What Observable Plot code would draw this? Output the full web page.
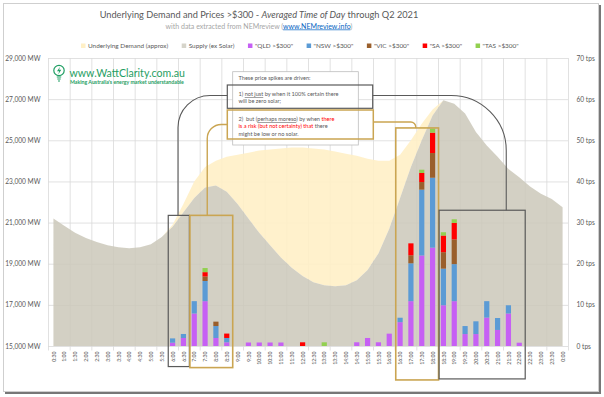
<!DOCTYPE html>
<html><head><meta charset="utf-8">
<script src="https://cdn.jsdelivr.net/npm/d3@7"></script>
<script src="https://cdn.jsdelivr.net/npm/@observablehq/plot@0.6"></script>
<style>
html,body{margin:0;padding:0;background:#fff;}
#wrap{position:relative;width:604px;height:397px;overflow:hidden;background:#fff;}
#frame{position:absolute;left:3px;top:3px;width:594px;height:387px;border:1px solid #cfcfcf;box-shadow:2px 2px 0 #777;pointer-events:none;}
#chart svg{display:block;font-family:Lato,"Open Sans",sans-serif;}
</style></head>
<body><div id="wrap"><div id="chart"></div><div id="frame"></div></div>
<script>
// ---------- data ----------
const times = ["0:30","1:00","1:30","2:00","2:30","3:00","3:30","4:00","4:30","5:00","5:30","6:00",
  "6:30","7:00","7:30","8:00","8:30","9:00","9:30","10:00","10:30","11:00","11:30","12:00",
  "12:30","13:00","13:30","14:00","14:30","15:00","15:30","16:00","16:30","17:00","17:30","18:00",
  "18:30","19:00","19:30","20:00","20:30","21:00","21:30","22:00","22:30","23:00","23:30","0:00"];
// Supply (ex Solar), MW
const supply = [21200,20850,20500,20250,20050,19900,19800,19750,19800,19950,20300,20800,
  21500,22200,22700,22800,22500,21900,21200,20500,19900,19300,18800,18400,
  18100,17950,17900,17950,18200,18700,19500,20700,22200,23700,25000,26200,
  26950,26780,26300,25400,24750,24200,23600,23200,22750,22400,22150,21750];
// Underlying Demand (approx), MW
const demand = [21200,20850,20500,20250,20050,19900,19800,19750,19800,19950,20300,20900,
  21900,23000,23700,24000,24200,24300,24400,24500,24550,24600,24650,24650,
  24600,24550,24450,24350,24250,24100,24000,24000,24300,25000,25800,26500,
  26950,26780,26300,25400,24750,24200,23600,23200,22750,22400,22150,21750];
// price spikes > $300, tps (trading periods)
const qld = [0,0,0,0,0,0,0,0,0,0,0,0.8, 1.95,7.9,10.9,1.95,0.9,0,0.85,0.85,0.85,0.85,0,0,
  0,0,0,0,0.9,1.95,0.9,3.0,5.8,10.9,22.0,23.9, 9.9,10.9,2.9,2.9,6.9,3.9,7.9,0.8,0,0,0,0];
const nsw = [0,0,0,0,0,0,0,0,0,0,0,1.05, 0.97,3.0,4.9,2.9,1.05,0,0,0,0,0,0,0,
  0,0,0,0,0,0,0,0,1.07,9.2,16.0,17.0, 8.9,9.0,1.95,3.1,4.0,2.9,2.0,0,0,0,0,0];
const vic = [0,0,0,0,0,0,0,0,0,0,0,0, 0,0,1.1,1.07,0,0,0,0,0,0,0,0,
  0,0,0,0,0,0,0,0,0,1.95,1.85,6.0, 4.0,6.0,0,0,0,0,0,0,0,0,0,0];
const sa  = [0,0,0,0,0,0,0,0,0,0,0,0, 0,0,1.05,0,1.07,0,0,0,0,0,0,0.9,
  0,0,0,0,0,0,0,0,0,2.9,2.2,4.95, 4.05,4.0,0,0,0,0,0,0,0,0,0,0];
const tas = [0,0,0,0,0,0,0,0,0,0,0,0, 0,0,1.0,0,0,0,0,0,0,0,0,0,
  0,0.9,0,0,0,0,0,0,0,0,0.8,1.0, 0.8,0.9,0,0,0,0,0,0,0,0,0,0];
const mwTicks = [15000,17000,19000,21000,23000,25000,27000,29000];
const tpsTicks = [0,10,20,30,40,50,60,70];
// highlighted time ranges (annotation)
const highlights = [
  {from:"6:00", to:"6:30", top:21350, bottom:14000, kind:"dark", link:11.5},
  {from:"7:00", to:"8:30", top:21350, bottom:13950, kind:"gold", link:14.2},
  {from:"16:30", to:"18:00", top:25600, bottom:13350, kind:"gold", link:33.45},
  {from:"18:30", to:"22:00", top:21600, bottom:13400, kind:"dark", link:41.8}
];

// ---------- build ----------
const W = 604, H = 397;
const idx = t => times.indexOf(t);
const tpsMax = tpsTicks[tpsTicks.length-1];
const mwMin = mwTicks[0], mwMax = mwTicks[mwTicks.length-1];
const toMW = v => mwMin + v * (mwMax - mwMin) / tpsMax;
const rows = times.map((t,i)=>({i, t, supply: supply[i], demand: demand[i]}));
const stateKeys = ["QLD","NSW","VIC","SA","TAS"];
const stateVals = {QLD:qld, NSW:nsw, VIC:vic, SA:sa, TAS:tas};
const stateColor = {QLD:"#c660f4", NSW:"#5b9bd5", VIC:"#9a5f2c", SA:"#ff0000", TAS:"#92d050"};
const segs = [];
times.forEach((t,i)=>{ let c=0; for (const k of stateKeys){ const v=stateVals[k][i]; if(v>0){ segs.push({i,k,lo:c,hi:c+v}); c+=v; } } });
const gridIdx = d3.range(-0.5, 48, 2);
const DARK = "#5a5a5a", GOLD = "#caa552";
const textCol = "#595959";

const chart = Plot.plot({
  width: W, height: H,
  marginLeft: 48, marginRight: 36, marginTop: 58, marginBottom: 51,
  x: {type:"linear", domain:[-0.5, 47.5]},
  y: {domain:[mwMin, mwMax]},
  style: {background:"transparent", fontFamily:"Lato, 'Open Sans', sans-serif", overflow:"visible"},
  marks: [
    Plot.ruleY(mwTicks, {stroke:"#d9d9d9", strokeWidth:0.8}),
    Plot.ruleX(gridIdx, {y1: mwMax, y2: 14780, stroke:"#d9d9d9", strokeWidth:0.8}),
    Plot.areaY(rows, {x:"i", y1:"supply", y2:"demand", fill:"#fff0c6", fillOpacity:0.9}),
    Plot.areaY(rows, {x:"i", y1: mwMin, y2:"supply", fill:"#cbc8ba", fillOpacity:0.85}),
    Plot.rect(segs, {x1: d=>d.i-0.24, x2: d=>d.i+0.24, y1: d=>toMW(d.lo), y2: d=>toMW(d.hi), fill: d=>stateColor[d.k]}),
    Plot.rect(highlights, {x1: d=>idx(d.from)-0.4, x2: d=>idx(d.to)+0.55, y1:"bottom", y2:"top",
      fill:"none", stroke: d=> d.kind==="dark" ? DARK : GOLD, strokeWidth: d=> d.kind==="dark" ? 1.2 : 1.6}),
    Plot.axisX(d3.range(times.length), {anchor:"bottom", tickFormat: i=>times[i], tickRotate:-90, tickSize:0, tickPadding:5, fontSize:5.2, fill:textCol, label:null}),
    Plot.axisY(mwTicks, {anchor:"left", tickFormat: d=>d3.format(",")(d)+" MW", tickSize:0, tickPadding:8, fontSize:6.6, fill:textCol, label:null}),
    Plot.axisY(mwTicks, {anchor:"right", tickFormat: d=>Math.round((d-mwMin)*tpsMax/(mwMax-mwMin))+" tps", tickSize:0, tickPadding:8, fontSize:6.6, fill:textCol, label:null})
  ]
});
document.getElementById("chart").appendChild(chart);

const svg = d3.select(chart);
const xs = chart.scale("x"), ys = chart.scale("y");
const X = v => xs.apply(v), Y = v => ys.apply(v);

function fit(sel, width){
  const n = sel.node(); const fs = parseFloat(sel.attr("font-size"));
  const len = n.getComputedTextLength(); sel.attr("font-size", fs*width/len);
}

// Title
const title = svg.append("text").attr("x",259).attr("y",17.5).attr("text-anchor","middle").attr("font-size",10).attr("fill",textCol);
title.append("tspan").text("Underlying Demand and Prices >$300 - ");
title.append("tspan").attr("font-style","italic").text("Averaged Time of Day");
title.append("tspan").text(" through Q2 2021");
fit(title, 319);
const sub = svg.append("text").attr("x",259).attr("y",28.5).attr("text-anchor","middle").attr("font-size",7).attr("fill","#a6a6a6");
sub.append("tspan").text("with data extracted from NEMreview (");
sub.append("tspan").attr("fill","#0563c1").attr("text-decoration","underline").text("www.NEMreview.info");
sub.append("tspan").text(")");
fit(sub, 187);

// Legend
const legendItems = [
  ["Underlying Demand (approx)", "#fff0c6"],
  ["Supply (ex Solar)", "#d6d4ca"],
  ['"QLD >$300"', stateColor.QLD],
  ['"NSW >$300"', stateColor.NSW],
  ['"VIC >$300"', stateColor.VIC],
  ['"SA >$300"', stateColor.SA],
  ['"TAS >$300"', stateColor.TAS]
];
let lx = 81;
const lg = svg.append("g").attr("text-anchor","start");
legendItems.forEach(([name,col])=>{
  lg.append("rect").attr("x",lx).attr("y",43.5).attr("width",4.5).attr("height",4.5).attr("fill",col);
  const t = lg.append("text").attr("x",lx+7).attr("y",48).attr("font-size",6.4).attr("fill",textCol).text(name);
  lx += 7 + t.node().getComputedTextLength() + 13.5;
});

// Logo
const logoG = svg.append("g").attr("text-anchor","start");
const green = "#1f9e63";
logoG.append("circle").attr("cx",59).attr("cy",70.5).attr("r",5.2).attr("fill","none").attr("stroke",green).attr("stroke-width",1.2);
logoG.append("path").attr("d","M56.8,77 L61.2,77 M57.3,79 L60.7,79 M58,81 L60,81").attr("stroke",green).attr("stroke-width",1.1).attr("fill","none");
logoG.append("path").attr("d","M60,66.8 L57,71.2 L59.2,71.2 L58.2,74.6 L61.3,69.8 L59.1,69.8 Z").attr("fill",green);
const lt = logoG.append("text").attr("x",69.5).attr("y",77.2).attr("font-size",12).attr("fill",green).text("www.WattClarity.com.au");
fit(lt, 115.5);
const lt2 = logoG.append("text").attr("x",70).attr("y",83.5).attr("font-size",4.6).attr("font-weight","bold").attr("fill",green).text("Making Australia's energy market understandable");
fit(lt2, 114);

// Connectors
const conn = svg.append("g").attr("fill","none");
function corner(x0,y0,xv,yTop,r){
  const dir = xv < x0 ? 1 : -1; const k = 0.55*r;
  return `M${x0},${y0} H${xv+dir*r} C${xv+dir*(r-k)},${y0} ${xv},${y0+r-k} ${xv},${y0+r} V${yTop}`;
}
conn.append("path").attr("d",corner(227.3,95.5,X(highlights[0].link),Y(highlights[0].top),32)).attr("stroke",DARK).attr("stroke-width",1.1);
conn.append("path").attr("d",corner(372.7,95.5,X(highlights[3].link),Y(highlights[3].top),55)).attr("stroke",DARK).attr("stroke-width",1.1);
conn.append("path").attr("d",corner(227.3,124.5,X(highlights[1].link),Y(highlights[1].top),14)).attr("stroke",GOLD).attr("stroke-width",1.4);
conn.append("path").attr("d",corner(373.3,122,X(highlights[2].link),Y(highlights[2].top),5)).attr("stroke",GOLD).attr("stroke-width",1.4);

// Annotation text box
const ab = svg.append("g").attr("text-anchor","start");
ab.append("rect").attr("x",232.7).attr("y",71.7).attr("width",125.6).attr("height",73.3).attr("fill","#fff").attr("stroke","#bdbdbd").attr("stroke-width",0.8);
ab.append("rect").attr("x",227.3).attr("y",85).attr("width",145.4).attr("height",23.3).attr("fill","none").attr("stroke",DARK).attr("stroke-width",1.2);
ab.append("rect").attr("x",227.3).attr("y",110).attr("width",146).attr("height",29).attr("fill","none").attr("stroke",GOLD).attr("stroke-width",1.5);
const lines = [
  [["These price spikes are driven:"]],
  [["1) "],["not just","u"],[" by when it 100% certain there"]],
  [["will be zero solar;"]],
  [["2)  but ("],["perhaps moreso","u"],[") by when "],["there","r"]],
  [["is a risk (but not certainty) that","r"],[" there"]],
  [["might be low or no solar."]]
];
const ly = [80.3, 96.4, 103.4, 121, 128.3, 135.8];
lines.forEach((parts,j)=>{
  const t = ab.append("text").attr("x",238.5).attr("y",ly[j]).attr("font-size",5.6).attr("fill",textCol);
  parts.forEach(([s,f])=>{
    const sp = t.append("tspan").text(s);
    if (f==="u") sp.attr("text-decoration","underline");
    if (f==="r") sp.attr("fill","#ff0000");
  });
});
</script>
</body></html>
